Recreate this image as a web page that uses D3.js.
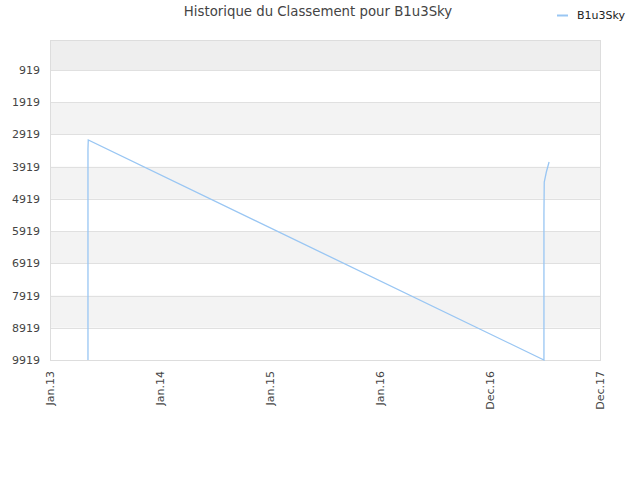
<!DOCTYPE html>
<html>
<head>
<meta charset="utf-8">
<script src="https://cdn.jsdelivr.net/npm/d3@7"></script>
<style>
  body { margin: 0; background: #fff; }
  text { font-family: "DejaVu Sans", sans-serif; }
</style>
</head>
<body>
<svg width="640" height="480"></svg>
<script>
// rank history
const dates = ["2013-05-07", "2013-05-07", "2013-05-07", "2013-05-08",
               "2017-06-28", "2017-06-28", "2017-06-28", "2017-06-28",
               "2017-06-28", "2017-06-28", "2017-06-28", "2017-06-29",
               "2017-07-06", "2017-07-15"];
const ranks = [9919, 6381, 3371, 3091,
               9919, 9578, 9175, 8895,
               8368, 7809, 5388, 4395,
               4085, 3774];
const yTicks = [919, 1919, 2919, 3919, 4919, 5919, 6919, 7919, 8919, 9919];
const xTickDates = ["2013-01-01", "2014-01-01", "2015-01-01", "2016-01-01", "2016-12-31", "2017-12-31"];
const xTickLabels = ["Jan.13", "Jan.14", "Jan.15", "Jan.16", "Dec.16", "Dec.17"];

const parse = d3.timeParse("%Y-%m-%d");
const data = dates.map((d, i) => ({date: parse(d), rank: ranks[i]}));

const margin = {top: 40, right: 40, bottom: 120, left: 50},
      width = 640 - margin.left - margin.right,
      height = 480 - margin.top - margin.bottom;

const svg = d3.select("svg");
const g = svg.append("g")
    .attr("transform", `translate(${margin.left}, ${margin.top})`);

const x = d3.scaleTime()
    .domain([parse("2013-01-01"), parse("2017-12-31")])
    .range([0, width]);

const y = d3.scaleLinear()
    .domain([-12, 9919])
    .range([0, height]);

// alternating bands between ticks
const bandEdges = [-12].concat(yTicks);
g.selectAll("rect.band")
    .data(bandEdges.slice(0, -1))
    .enter().append("rect")
    .attr("x", 0)
    .attr("y", d => y(d))
    .attr("width", width)
    .attr("height", (d, i) => y(bandEdges[i + 1]) - y(d))
    .attr("fill", (d, i) => i === 0 ? "#eeeeee" : (i % 2 === 0 ? "#f3f3f3" : "#ffffff"));

// grid lines
g.selectAll("line.grid")
    .data(yTicks)
    .enter().append("line")
    .attr("x1", 0)
    .attr("x2", width)
    .attr("y1", d => Math.round(y(d)) + 0.5)
    .attr("y2", d => Math.round(y(d)) + 0.5)
    .attr("stroke", "#e0e0e0");

// frame
g.append("rect")
    .attr("x", 0.5).attr("y", 0.5)
    .attr("width", width).attr("height", height)
    .attr("fill", "none")
    .attr("stroke", "#dddddd");

// y axis
const yAxis = d3.axisLeft(y).tickValues(yTicks).tickSize(0).tickPadding(10).tickFormat(d3.format("d"));
g.append("g").call(yAxis)
    .call(a => a.select(".domain").remove())
    .selectAll("text")
    .attr("font-size", "11px")
    .attr("fill", "#444");

// x axis
const xAxis = d3.axisBottom(x)
    .tickValues(xTickDates.map(parse))
    .tickSize(0)
    .tickFormat((d, i) => xTickLabels[i]);
g.append("g")
    .attr("transform", `translate(0, ${height})`)
    .call(xAxis)
    .call(a => a.select(".domain").remove())
    .selectAll("text")
    .attr("font-size", "11px")
    .attr("fill", "#444")
    .attr("text-anchor", "end")
    .attr("dy", "0.35em")
    .attr("x", -11)
    .attr("y", 0)
    .attr("transform", "rotate(-90)");

// the line
const line = d3.line()
    .x(d => x(d.date))
    .y(d => y(d.rank));
g.append("path")
    .datum(data)
    .attr("d", line)
    .attr("fill", "none")
    .attr("stroke", "#99c6f3")
    .attr("stroke-width", 1.3);

// title
svg.append("text")
    .attr("x", 318)
    .attr("y", 16)
    .attr("text-anchor", "middle")
    .attr("font-size", "13.3px")
    .attr("fill", "#444")
    .text("Historique du Classement pour B1u3Sky");

// legend
svg.append("line")
    .attr("x1", 557).attr("x2", 568)
    .attr("y1", 15.5).attr("y2", 15.5)
    .attr("stroke", "#99c6f3")
    .attr("stroke-width", 2);
svg.append("text")
    .attr("x", 577)
    .attr("y", 19)
    .attr("font-size", "11px")
    .attr("fill", "#222")
    .text("B1u3Sky");
</script>
</body>
</html>
